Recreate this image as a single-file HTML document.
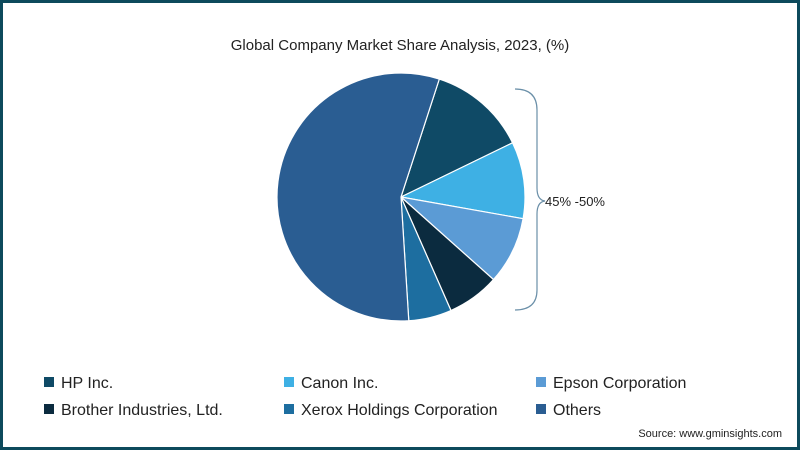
<!DOCTYPE html>
<html><head><meta charset="utf-8"><style>
html,body{margin:0;padding:0;background:#fff;}
#frame{position:relative;width:800px;height:450px;box-sizing:border-box;border:3px solid #0d4a5c;font-family:"Liberation Sans",sans-serif;overflow:hidden;}
svg{position:absolute;left:-3px;top:-3px;}
</style></head><body>
<div id="frame">
<svg id="chart" width="800" height="450" viewBox="0 0 800 450">
<text x="400" y="50" text-anchor="middle" font-size="15" fill="#222">Global Company Market Share Analysis, 2023, (%)</text>
<g id="slices"></g>
<path d="M515,89 Q537,89 537,110 L537,188 Q537,200 545,201 Q537,202 537,214 L537,290 Q537,310 515,310" fill="none" stroke="#6a8fa8" stroke-width="1.2"/>
<text x="545" y="206" font-size="13" fill="#222">45% -50%</text>
<g id="legend"></g>
<text x="782" y="437" text-anchor="end" font-size="11" fill="#222">Source: www.gminsights.com</text>
</svg>
</div>
<script>
const categories = ["HP Inc.","Canon Inc.","Epson Corporation","Brother Industries, Ltd.","Xerox Holdings Corporation","Others"];
const shares = [12.8, 10.0, 8.8, 6.8, 5.6, 56.0];
const colors = ["#0f4a66","#3eb0e4","#5b9bd5","#0b2b3f","#1d6ea0","#2a5d92"];
const startAngle = 18;
const cx = 401, cy = 197, r = 124;
const NS = "http://www.w3.org/2000/svg";
const total = shares.reduce((a,b)=>a+b,0);
function pt(deg){const a=deg*Math.PI/180;return [cx+r*Math.sin(a), cy-r*Math.cos(a)];}
let ang = startAngle;
const g = document.getElementById("slices");
shares.forEach((v,i)=>{
  const sweep = v/total*360;
  const [x1,y1]=pt(ang),[x2,y2]=pt(ang+sweep);
  const p=document.createElementNS(NS,"path");
  p.setAttribute("d",`M${cx},${cy} L${x1},${y1} A${r},${r} 0 ${sweep>180?1:0} 1 ${x2},${y2} Z`);
  p.setAttribute("fill",colors[i]);
  p.setAttribute("stroke","#fff");
  p.setAttribute("stroke-width","1.2");
  
  
  g.appendChild(p);
  ang += sweep;
});
const lg = document.getElementById("legend");
const colX=[44,284,536], rowY=[382,409];
categories.forEach((c,i)=>{
  const x=colX[i%3], y=rowY[Math.floor(i/3)];
  const it=document.createElementNS(NS,"g");
  
  
  const rc=document.createElementNS(NS,"rect");
  rc.setAttribute("x",x);rc.setAttribute("y",y-5);rc.setAttribute("width",10);rc.setAttribute("height",10);rc.setAttribute("fill",colors[i]);
  const t=document.createElementNS(NS,"text");
  t.setAttribute("x",x+17);t.setAttribute("y",y+6);t.setAttribute("font-size","16");t.setAttribute("fill","#222");
  t.textContent=c;
  it.appendChild(rc);it.appendChild(t);lg.appendChild(it);
});
</script>
</body></html>
